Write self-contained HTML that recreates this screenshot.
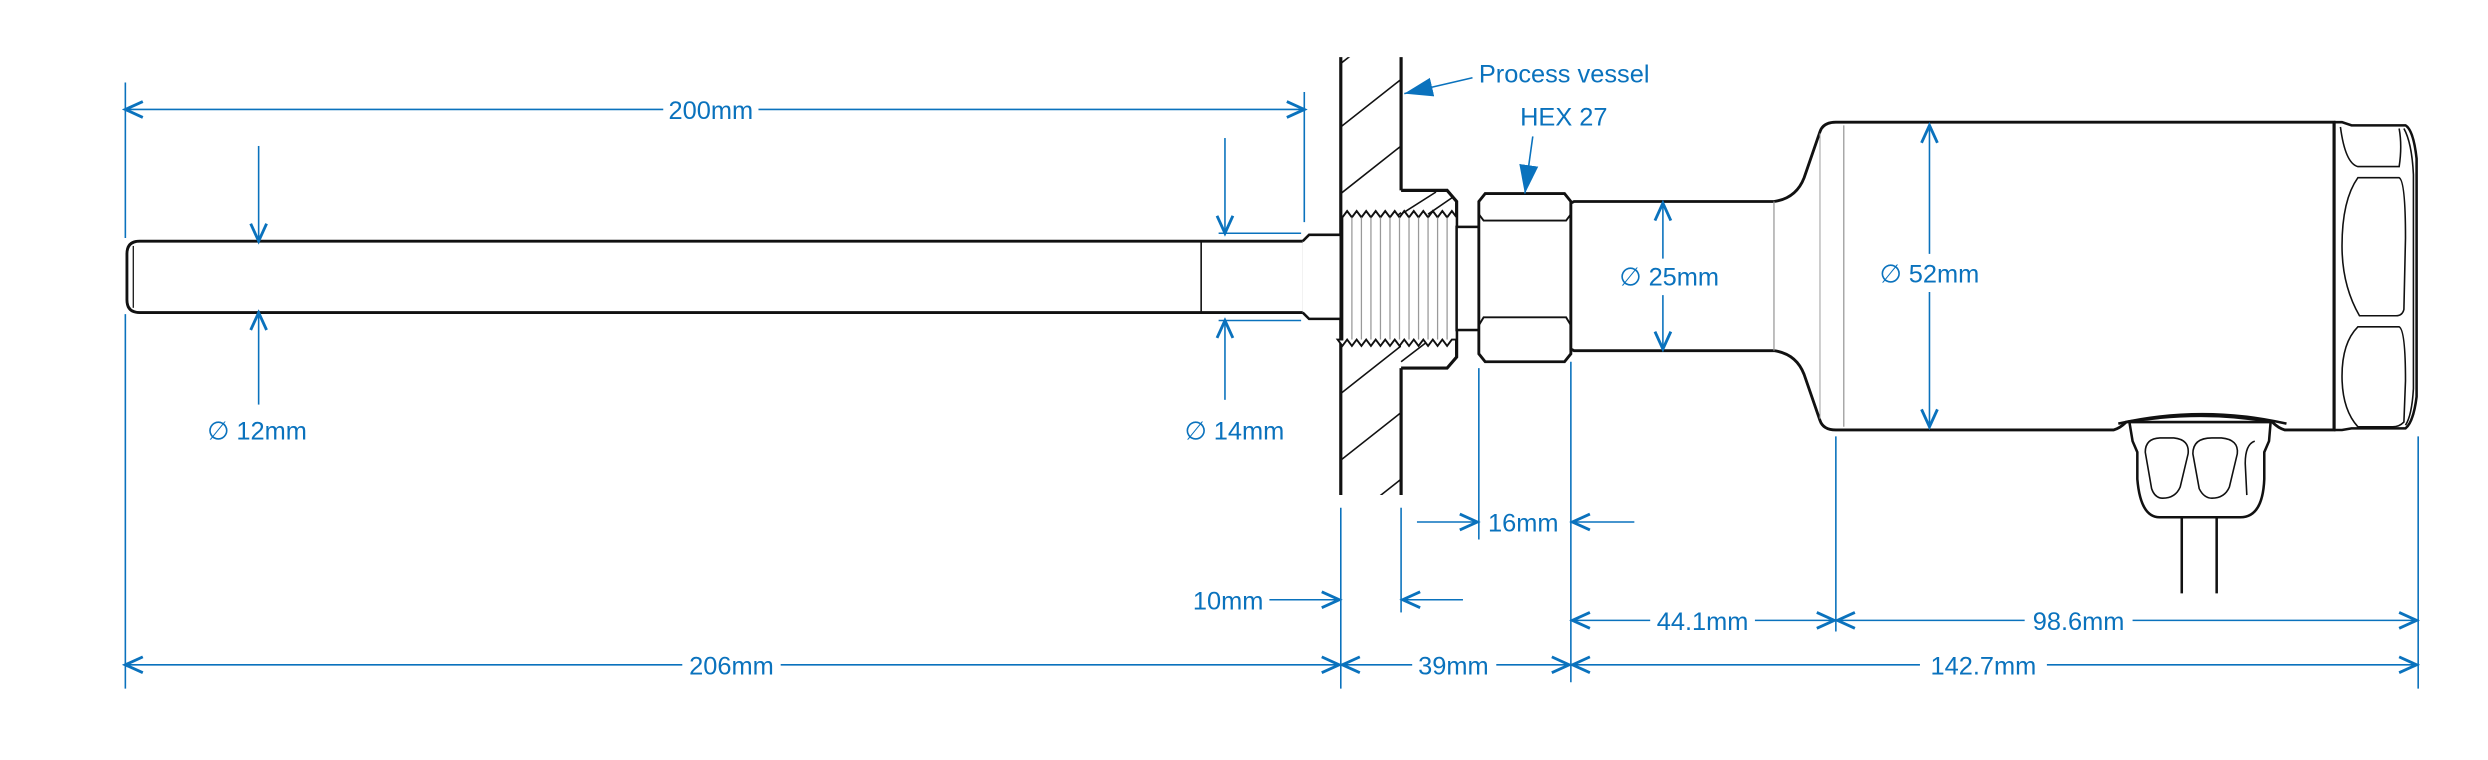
<!DOCTYPE html>
<html><head><meta charset="utf-8"><style>
html,body{margin:0;padding:0;background:#fff;}
svg{display:block;}
text{font-family:"Liberation Sans",sans-serif;font-size:16px;fill:#0a72bd;}
</style></head><body>
<svg width="2488" height="760" viewBox="0 0 1568 479" preserveAspectRatio="none" xmlns="http://www.w3.org/2000/svg">
<defs>
<marker id="a" markerUnits="userSpaceOnUse" markerWidth="14" markerHeight="14" refX="12" refY="6" orient="auto-start-reverse" viewBox="0 0 14 12">
<path d="M1,1 L12,6 L1,11" fill="none" stroke="#0a72bd" stroke-width="1.8"/>
</marker>
<marker id="f" markerUnits="userSpaceOnUse" markerWidth="20" markerHeight="14" refX="18" refY="6" orient="auto" viewBox="0 0 20 12">
<path d="M0,0 L18,6 L0,12 z" fill="#0a72bd"/>
</marker>
<clipPath id="wc"><rect x="845" y="36" width="38" height="276"/></clipPath>
</defs>

<g clip-path="url(#wc)" stroke="#111" stroke-width="1">
<line x1="845" y1="80" x2="883" y2="50"/>
<line x1="845" y1="122" x2="883" y2="92"/>
<line x1="845" y1="164" x2="883" y2="134"/>
<line x1="845" y1="206" x2="883" y2="176"/>
<line x1="845" y1="248" x2="883" y2="218"/>
<line x1="845" y1="290" x2="883" y2="260"/>
<line x1="845" y1="332" x2="883" y2="302"/>
<line x1="845" y1="40" x2="883" y2="10"/>
</g>
<g stroke="#111" stroke-width="2" fill="none">
<line x1="845" y1="36" x2="845" y2="312"/>
<line x1="883" y1="36" x2="883" y2="120"/>
<line x1="883" y1="232" x2="883" y2="312"/>
</g>
<path d="M883,120 L912,120 L918,127 L918,225 L912,232 L883,232" fill="#fff" stroke="#111" stroke-width="2"/>
<g stroke="#111" stroke-width="1" fill="none">
<line x1="883" y1="135" x2="905" y2="121"/>
<line x1="883" y1="228" x2="900" y2="215"/>
<line x1="900" y1="135" x2="916" y2="124"/>
</g>
<path d="M846,137 l3,-4 l3,4 l3,-4 l3,4 l3,-4 l3,4 l3,-4 l3,4 l3,-4 l3,4 l3,-4 l3,4 l3,-4 l3,4 l3,-4 l3,4 l3,-4 l3,4 l3,-4 l3,4 l3,-4 l3,4 l3,-4 l3,4 L918,137 L918,214 L915,214 l-3,4 l-3,-4 l-3,4 l-3,-4 l-3,4 l-3,-4 l-3,4 l-3,-4 l-3,4 l-3,-4 l-3,4 l-3,-4 l-3,4 l-3,-4 l-3,4 l-3,-4 l-3,4 l-3,-4 l-3,4 l-3,-4 l-3,4 l-3,-4 l-3,4 l-3,-4 L846,214 z" fill="#fff" stroke="#111" stroke-width="1.2"/>
<g stroke="#999" stroke-width="0.8">
<line x1="852" y1="137" x2="852" y2="214"/><line x1="858" y1="137" x2="858" y2="214"/><line x1="864" y1="137" x2="864" y2="214"/><line x1="870" y1="137" x2="870" y2="214"/><line x1="876" y1="137" x2="876" y2="214"/><line x1="882" y1="137" x2="882" y2="214"/><line x1="888" y1="137" x2="888" y2="214"/><line x1="894" y1="137" x2="894" y2="214"/><line x1="900" y1="137" x2="900" y2="214"/><line x1="906" y1="137" x2="906" y2="214"/><line x1="912" y1="137" x2="912" y2="214"/>
</g>
<path d="M88,152 L822,152 L822,197 L88,197 Q80,197 80,189 L80,160 Q80,152 88,152 z" fill="#fff" stroke="#111" stroke-width="1.8"/>
<line x1="84" y1="155" x2="84" y2="194" stroke="#111" stroke-width="0.8"/>
<line x1="757" y1="152" x2="757" y2="197" stroke="#111" stroke-width="1"/>
<path d="M821,152 L825,148 L845,148 L845,201 L825,201 L821,197" fill="#fff" stroke="#111" stroke-width="1.6"/>
<rect x="918" y="143" width="14" height="65" fill="#fff" stroke="#111" stroke-width="1.6"/>
<path d="M936,122 L986,122 L990,127 L990,223 L986,228 L936,228 L932,223 L932,127 z" fill="#fff" stroke="#111" stroke-width="1.8"/>
<path d="M932,135 L935,139 L987,139 L990,135 M932,205 L935,200 L987,200 L990,205" fill="none" stroke="#111" stroke-width="1.2"/>
<path d="M990,128 L992,127 L1118,127 Q1132,125 1137,112 L1147,83 Q1149,77 1157,77 L1471,77 L1471,271 L1440,271 Q1436,270 1432,266 Q1388,258 1340,266 Q1336,270 1332,271 L1157,271 Q1149,271 1147,265 L1137,236 Q1132,223 1118,221 L992,221 L990,220 z" fill="#fff" stroke="#111" stroke-width="1.8"/>
<line x1="1118" y1="127" x2="1118" y2="221" stroke="#999" stroke-width="0.8"/>
<line x1="1162" y1="79" x2="1162" y2="269" stroke="#999" stroke-width="0.8"/>
<line x1="1147" y1="84" x2="1147" y2="264" stroke="#999" stroke-width="0.6"/>
<path d="M1471,77 L1476,77 L1482,79 L1516,79 Q1521,82 1523,100 L1523,250 Q1521,266 1516,270 L1482,270 L1476,271 L1471,271" fill="#fff" stroke="#111" stroke-width="1.6"/>
<line x1="1471" y1="77" x2="1471" y2="271" stroke="#111" stroke-width="2"/>
<g fill="none" stroke="#111" stroke-width="1">
<path d="M1475,80 Q1478,103 1486,105 L1512,105 Q1514,92 1512,81"/>
<path d="M1486,112 L1512,112 Q1516,114 1516,150 L1515,195 Q1514,199 1510,199 L1487,199 Q1476,180 1476,155 Q1476,126 1486,112 z"/>
<path d="M1486,206 L1512,206 Q1516,208 1516,240 L1515,266 Q1512,269 1508,269 L1486,269 Q1476,258 1476,237 Q1476,216 1486,206 z"/>
<path d="M1515,81 Q1520,90 1521,110 L1521,245 Q1520,262 1516,268"/>
</g>
<path d="M1342,266 L1344,278 L1347,285 L1347,302 Q1349,326 1361,326 L1412,326 Q1426,326 1427,302 L1427,285 L1430,278 L1431,266 z" fill="#fff" stroke="#111" stroke-width="1.6"/>
<path d="M1335,267 Q1388,255 1441,267" fill="none" stroke="#111" stroke-width="1.6"/>
<g fill="none" stroke="#111" stroke-width="1">
<path d="M1352,285 Q1352,276 1362,276 L1370,276 Q1380,277 1379,286 L1374,307 Q1371,314 1363,314 Q1358,314 1356,308 z"/>
<path d="M1382,286 Q1382,276 1394,276 L1400,276 Q1411,277 1410,286 L1405,307 Q1402,314 1394,314 Q1389,314 1386,308 z"/>
<path d="M1421,278 Q1415,280 1415,292 L1416,312"/>
</g>
<line x1="1375" y1="326" x2="1375" y2="374" stroke="#111" stroke-width="1.6"/>
<line x1="1397" y1="326" x2="1397" y2="374" stroke="#111" stroke-width="1.6"/>

<g stroke="#0a72bd" stroke-width="1" fill="none">
<line x1="79" y1="52" x2="79" y2="150"/>
<line x1="79" y1="198" x2="79" y2="434"/>
<line x1="822" y1="58" x2="822" y2="140"/>
<line x1="845" y1="320" x2="845" y2="434"/>
<line x1="883" y1="320" x2="883" y2="386"/>
<line x1="932" y1="232" x2="932" y2="340"/>
<line x1="990" y1="228" x2="990" y2="430"/>
<line x1="1157" y1="275" x2="1157" y2="398"/>
<line x1="1524" y1="275" x2="1524" y2="434"/>
<line x1="768" y1="147" x2="820" y2="147"/>
<line x1="768" y1="202" x2="820" y2="202"/>
<line x1="79" y1="69" x2="418" y2="69" marker-start="url(#a)"/>
<line x1="478" y1="69" x2="822" y2="69" marker-end="url(#a)"/>
<line x1="163" y1="92" x2="163" y2="152" marker-end="url(#a)"/>
<line x1="163" y1="255" x2="163" y2="197" marker-end="url(#a)"/>
<line x1="772" y1="87" x2="772" y2="147" marker-end="url(#a)"/>
<line x1="772" y1="252" x2="772" y2="202" marker-end="url(#a)"/>
<line x1="893" y1="329" x2="931" y2="329" marker-end="url(#a)"/>
<line x1="1030" y1="329" x2="991" y2="329" marker-end="url(#a)"/>
<line x1="800" y1="378" x2="844" y2="378" marker-end="url(#a)"/>
<line x1="922" y1="378" x2="884" y2="378" marker-end="url(#a)"/>
<line x1="991" y1="391" x2="1040" y2="391" marker-start="url(#a)"/>
<line x1="1106" y1="391" x2="1156" y2="391" marker-end="url(#a)"/>
<line x1="1158" y1="391" x2="1276" y2="391" marker-start="url(#a)"/>
<line x1="1344" y1="391" x2="1523" y2="391" marker-end="url(#a)"/>
<line x1="79" y1="419" x2="430" y2="419" marker-start="url(#a)"/>
<line x1="492" y1="419" x2="844" y2="419" marker-end="url(#a)"/>
<line x1="846" y1="419" x2="890" y2="419" marker-start="url(#a)"/>
<line x1="943" y1="419" x2="989" y2="419" marker-end="url(#a)"/>
<line x1="991" y1="419" x2="1210" y2="419" marker-start="url(#a)"/>
<line x1="1290" y1="419" x2="1523" y2="419" marker-end="url(#a)"/>
<line x1="1048" y1="163" x2="1048" y2="128" marker-end="url(#a)"/>
<line x1="1048" y1="186" x2="1048" y2="220" marker-end="url(#a)"/>
<line x1="1216" y1="160" x2="1216" y2="79" marker-end="url(#a)"/>
<line x1="1216" y1="184" x2="1216" y2="269" marker-end="url(#a)"/>
<line x1="928" y1="49" x2="885" y2="59" marker-end="url(#f)"/>
<line x1="966" y1="86" x2="961" y2="122" marker-end="url(#f)"/>
</g>

<text x="448" y="75" text-anchor="middle">200mm</text>
<text x="162" y="277" text-anchor="middle">∅ 12mm</text>
<text x="778" y="277" text-anchor="middle">∅ 14mm</text>
<text x="932" y="52">Process vessel</text>
<text x="958" y="79">HEX 27</text>
<text x="1052" y="180" text-anchor="middle">∅ 25mm</text>
<text x="1216" y="178" text-anchor="middle">∅ 52mm</text>
<text x="960" y="335" text-anchor="middle">16mm</text>
<text x="774" y="384" text-anchor="middle">10mm</text>
<text x="1073" y="397" text-anchor="middle">44.1mm</text>
<text x="1310" y="397" text-anchor="middle">98.6mm</text>
<text x="461" y="425" text-anchor="middle">206mm</text>
<text x="916" y="425" text-anchor="middle">39mm</text>
<text x="1250" y="425" text-anchor="middle">142.7mm</text>
</svg>
</body></html>
